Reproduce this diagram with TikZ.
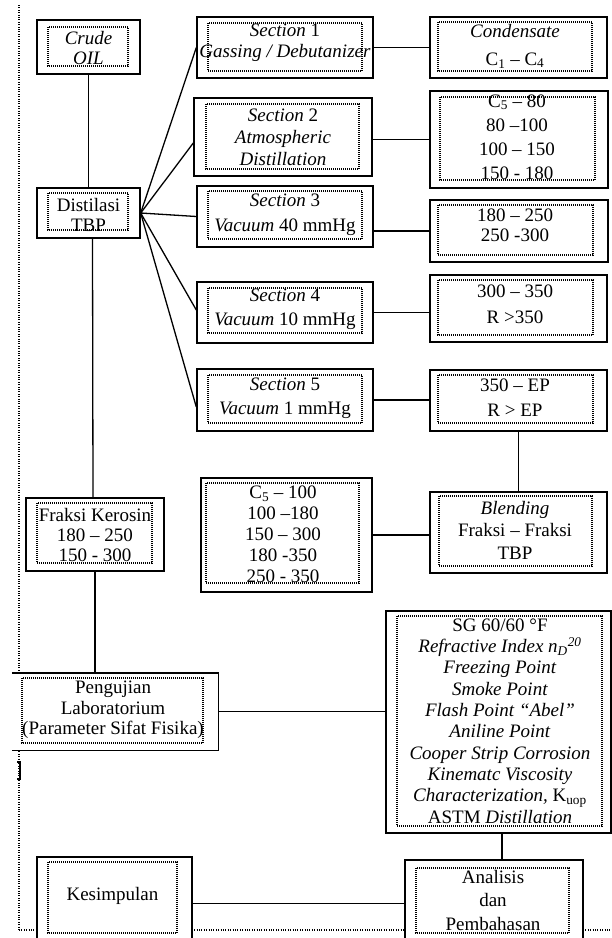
\documentclass[tikz,border=0pt]{standalone}
\usepackage{fontspec}
\setmainfont{Liberation Serif}
\usetikzlibrary{fit}
\begin{document}
\begin{tikzpicture}[x=1pt,y=-1pt,
  ob/.style={draw, line width=1.4pt, fill=white, inner sep=0pt},
  pb/.style={fill=white, inner sep=0pt},
  ib/.style={draw, line width=1.1pt, dash pattern=on 1pt off 1pt},
  bd/.style={line width=1.2pt, dash pattern=on 1pt off 1.4pt},
  cn/.style={line width=1.3pt},
  txt/.style={inner sep=0pt, align=center, font=\fontsize{19}{#1}\selectfont}]
\useasboundingbox (0,0) rectangle (612,938);
\clip (0,0) rectangle (612,938);
\fill[white] (0,0) rectangle (612,938);
% page border lines
\draw[bd] (19,5) -- (19,930);
\draw[bd] (19,930) -- (612,930);
\draw[line width=1.4pt] (17,762) -- (20,762) -- (20,779) -- (17,779);

% left column
\node[ob, fit={(37,20) (140,74)}] (crude) {};
\draw[ib] (48,27) rectangle (128,66);
\node[txt=20] (crudeT) at (88.5,48) {\textit{Crude}\\\textit{OIL}};

\node[ob, fit={(37,188) (140,238)}] (dist) {};
\draw[ib] (48,193) rectangle (128,230);
\node[txt=20] (distT) at (88.5,215) {Distilasi\\TBP};

\node[ob, fit={(26,498) (164,571)}] (kero) {};
\draw[ib] (37,503) rectangle (152,563);
\node[txt=20] (keroT) at (95,535) {Fraksi Kerosin\\180 – 250\\150 - 300};

\node[pb, fit={(12,673) (218,750)}] (peng) {};
\draw[line width=1.4pt] (peng.north west) -- (peng.north east) -- (peng.south east) -- (peng.south west);
\draw[ib] (22,678) rectangle (203,743);
\node[txt=20.5] (pengT) at (113,710) {Pengujian\\Laboratorium\\(Parameter Sifat Fisika)};

\node[ob, fit={(37,857) (192,950)}] (kes) {};
\draw[ib] (48,862) rectangle (177,933);
\node[txt=20] (kesT) at (112.5,896) {Kesimpulan};

% sections
\node[ob, fit={(197,17) (373,78)}] (sec1) {};
\draw[ib] (208,23) rectangle (362,71);
\node[txt=21] (sec1T) at (285,42.5) {\textit{Section} 1\\\textit{Gassing / Debutanizer}};

\node[ob, fit={(194,98) (372,176)}] (sec2) {};
\draw[ib] (206,104) rectangle (359,169);
\node[txt=22] (sec2T) at (283,137) {\textit{Section} 2\\\textit{Atmospheric}\\\textit{Distillation}};

\node[ob, fit={(197,186) (373,247)}] (sec3) {};
\draw[ib] (208,191) rectangle (362,239);
\node[txt=25] (sec3T) at (285,214.5) {\textit{Section} 3\\\textit{Vacuum} 40 mmHg};

\node[ob, fit={(197,282) (373,343)}] (sec4) {};
\draw[ib] (208,288) rectangle (362,333);
\node[txt=24] (sec4T) at (285,309) {\textit{Section} 4\\\textit{Vacuum} 10 mmHg};

\node[ob, fit={(197,369) (373,431)}] (sec5) {};
\draw[ib] (208,375) rectangle (362,423);
\node[txt=24] (sec5T) at (285,398) {\textit{Section} 5\\\textit{Vacuum} 1 mmHg};

% right column
\node[ob, fit={(430,17) (607,78)}] (r1) {};
\draw[ib] (438,22) rectangle (592,71);
\node[txt=28] (r1T) at (515,46) {\textit{Condensate}\\C\textsubscript{1} – C\textsubscript{4}};

\node[ob, fit={(430,91) (608,188)}] (r2) {};
\draw[ib] (440,97) rectangle (595,180);
\node[txt=24] (r2T) at (517,137) {C\textsubscript{5} – 80\\80 –100\\100 – 150\\150 - 180};

\node[ob, fit={(430,200) (608,262)}] (r3) {};
\draw[ib] (438,205) rectangle (593,255);
\node[txt=20] (r3T) at (515,225) {180 – 250\\250 -300};

\node[ob, fit={(430,275) (607,342)}] (r4) {};
\draw[ib] (438,280) rectangle (593,335);
\node[txt=26] (r4T) at (515,304) {300 – 350\\R >350};

\node[ob, fit={(430,370) (607,431)}] (r5) {};
\draw[ib] (438,375) rectangle (593,423);
\node[txt=25] (r5T) at (515,397.5) {350 – EP\\R > EP};

\node[ob, fit={(430,492) (607,573)}] (blend) {};
\draw[ib] (439,496) rectangle (592,566);
\node[txt=22.5] (blendT) at (515,530) {\textit{Blending}\\Fraksi – Fraksi\\TBP};

\node[ob, fit={(201,478) (372,592)}] (c100) {};
\draw[ib] (206,483) rectangle (359,583);
\node[txt=21] (c100T) at (283,534.5) {C\textsubscript{5} – 100\\100 –180\\150 – 300\\180 -350\\250 - 350};

\node[ob, fit={(386,611) (611,833)}] (prop) {};
\draw[ib] (397,616) rectangle (602,826);
\node[txt=21.3] (propT) at (500,721) {SG 60/60 °F\\\textit{Refractive Index n\textsubscript{D}\textsuperscript{20}}\\\textit{Freezing Point}\\\textit{Smoke Point}\\\textit{Flash Point “Abel”}\\\textit{Aniline Point}\\\textit{Cooper Strip Corrosion}\\\textit{Kinematc Viscosity}\\\textit{Characterization,} K\textsubscript{uop}\\ASTM \textit{Distillation}};

\node[ob, fit={(405,860) (583,950)}] (anal) {};
\draw[ib] (416,868) rectangle (569,933);
\node[txt=23.5] (analT) at (493,900) {Analisis\\dan\\Pembahasan};

% connectors
\draw[cn] (crude.south) -- (dist.north);
\draw[cn] (dist.east) -- (sec1.west);
\draw[cn] (dist.east) -- ([yshift=-6pt]sec2.west);
\draw[cn] (dist.east) -- (sec3.west);
\draw[cn] (dist.east) -- ([yshift=2.5pt]sec4.west);
\draw[cn] (dist.east) -- ([yshift=-7pt]sec5.west);
\draw[cn] (sec1.east) -- (r1.west);
\draw[cn] (sec2.east |- r2.west) -- (r2.west);
\draw[cn] (sec3.east |- r3.west) -- (r3.west);
\draw[cn] (sec4.east) -- (sec4.east -| r4.west);
\draw[cn] (sec5.east) -- (sec5.east -| r5.west);
\draw[cn] (r5.south) -- (blend.north);
\draw[cn] (c100.east) -- (c100.east -| blend.west);
\draw[cn] ([xshift=4pt]dist.south) -- ([xshift=-2pt]kero.north);
\draw[cn] (kero.south) -- (kero.south |- peng.north);
\draw[cn] (peng.east) -- (peng.east -| prop.west);
\coordinate (pa) at ([xshift=3.5pt]prop.south);
\draw[cn] (pa) -- (pa |- anal.north);
\draw[cn] (kes.east) -- (kes.east -| anal.west);
\end{tikzpicture}
\end{document}
